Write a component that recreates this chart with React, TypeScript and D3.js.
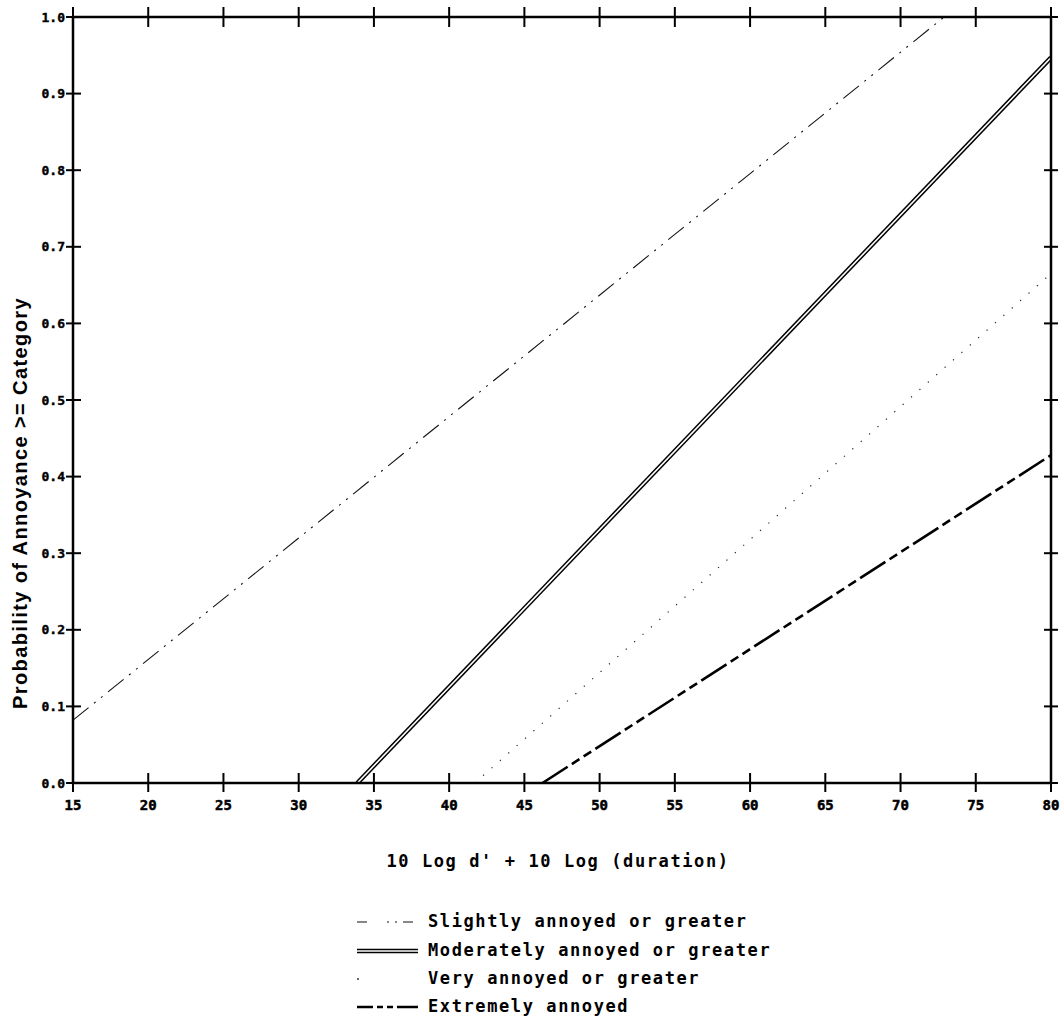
import React from 'react';
import * as d3 from 'd3';

// x ticks and y ticks
const xTicks = [15, 20, 25, 30, 35, 40, 45, 50, 55, 60, 65, 70, 75, 80];
const yTicks = [0, 0.1, 0.2, 0.3, 0.4, 0.5, 0.6, 0.7, 0.8, 0.9, 1.0];

// line end points: [level, probability]
const slightly = [[15, 0.082], [72.9, 1.0]];
const moderately = [[33.9, 0], [80, 0.947]];
const very = [[41.7, 0], [80, 0.665]];
const extremely = [[46.2, 0], [80, 0.428]];

const legendLabels = [
  'Slightly annoyed or greater',
  'Moderately annoyed or greater',
  'Very annoyed or greater',
  'Extremely annoyed',
];

const W = 1062;
const H = 1030;
const plot = { left: 73, right: 1051, top: 17, bottom: 783 };

const mono = '"DejaVu Sans Mono", monospace';

export default function App() {
  const x = d3.scaleLinear().domain([15, 80]).range([plot.left, plot.right]);
  const y = d3.scaleLinear().domain([0, 1]).range([plot.bottom, plot.top]);
  const line = d3.line<number[]>().x(d => x(d[0])).y(d => y(d[1]));

  const legendY = [927, 956, 984, 1012];
  const lx0 = 357;
  const lx1 = 418;

  return (
    <>
      <style>{'body{margin:0}'}</style>
      <svg width={W} height={H} style={{ display: 'block', background: '#fff' }}>
        <defs>
          <clipPath id="plotClip">
            <rect x={plot.left} y={plot.top} width={plot.right - plot.left} height={plot.bottom - plot.top} />
          </clipPath>
        </defs>

        {/* data lines */}
        <g clipPath="url(#plotClip)" fill="none">
          <path d={line(slightly) || ''} stroke="#111" strokeWidth={1.1} strokeDasharray="20 7 2 7 2 7" />
          <path d={line(moderately) || ''} stroke="#000" strokeWidth={4.6} />
          <path d={line(moderately) || ''} stroke="#fff" strokeWidth={1.6} />
          <path d={line(very) || ''} stroke="#222" strokeWidth={1.2} strokeDasharray="1.2 10" />
          <path d={line(extremely) || ''} stroke="#000" strokeWidth={2.6} strokeDasharray="30 5 9 5 9 5" />
        </g>

        {/* frame */}
        <rect x={plot.left} y={plot.top} width={plot.right - plot.left} height={plot.bottom - plot.top}
          fill="none" stroke="#000" strokeWidth={2.5} />

        {/* x ticks, top and bottom */}
        {xTicks.map(t => (
          <g key={'x' + t}>
            <line x1={x(t)} x2={x(t)} y1={plot.bottom - 10} y2={plot.bottom + 9} stroke="#000" strokeWidth={2} />
            <line x1={x(t)} x2={x(t)} y1={plot.top - 10} y2={plot.top + 10} stroke="#000" strokeWidth={2} />
            <text x={x(t)} y={810} textAnchor="middle" fontFamily={mono} fontWeight="bold" fontSize={14}
              stroke="#000" strokeWidth={0.5}>{t}</text>
          </g>
        ))}

        {/* y ticks, left and right */}
        {yTicks.map(t => (
          <g key={'y' + t}>
            <line x1={plot.left - 7} x2={plot.left + 8} y1={y(t)} y2={y(t)} stroke="#000" strokeWidth={2} />
            <line x1={plot.right - 7} x2={plot.right + 7} y1={y(t)} y2={y(t)} stroke="#000" strokeWidth={2} />
            <text x={plot.left - 8} y={y(t)} dy="0.35em" textAnchor="end" fontFamily={mono} fontWeight="bold" fontSize={13}
              stroke="#000" strokeWidth={0.4}>
              {t.toFixed(1)}
            </text>
          </g>
        ))}

        {/* axis titles */}
        <text x={558} y={867} textAnchor="middle" fontFamily={mono} fontWeight="bold" fontSize={17} letterSpacing={1.6}>
          10 Log d' + 10 Log (duration)
        </text>
        <text transform={`translate(27,503) rotate(-90)`} textAnchor="middle"
          fontFamily='"Liberation Sans", Arial, sans-serif' fontWeight="bold" fontSize={20} letterSpacing={1.4}>
          Probability of Annoyance &gt;= Category
        </text>

        {/* legend */}
        <g fill="none">
          <path d={`M${lx0},${legendY[0] - 5}H${lx1}`} stroke="#111" strokeWidth={1.1} strokeDasharray="10 20 2 6 2 6 10" />
          <path d={`M${lx0},${legendY[1] - 5}H${lx1}`} stroke="#000" strokeWidth={4.6} />
          <path d={`M${lx0},${legendY[1] - 5}H${lx1}`} stroke="#fff" strokeWidth={1.6} />
          <circle cx={lx0 + 1} cy={legendY[2] - 5} r={0.9} fill="#222" />
          <path d={`M${lx0},${legendY[3] - 5}H${lx1}`} stroke="#000" strokeWidth={2.6} strokeDasharray="16 4 6 4 6 4 30" />
        </g>
        {legendLabels.map((l, i) => (
          <text key={l} x={428} y={legendY[i]} fontFamily={mono} fontWeight="bold" fontSize={17} letterSpacing={1.6}>{l}</text>
        ))}
      </svg>
    </>
  );
}
